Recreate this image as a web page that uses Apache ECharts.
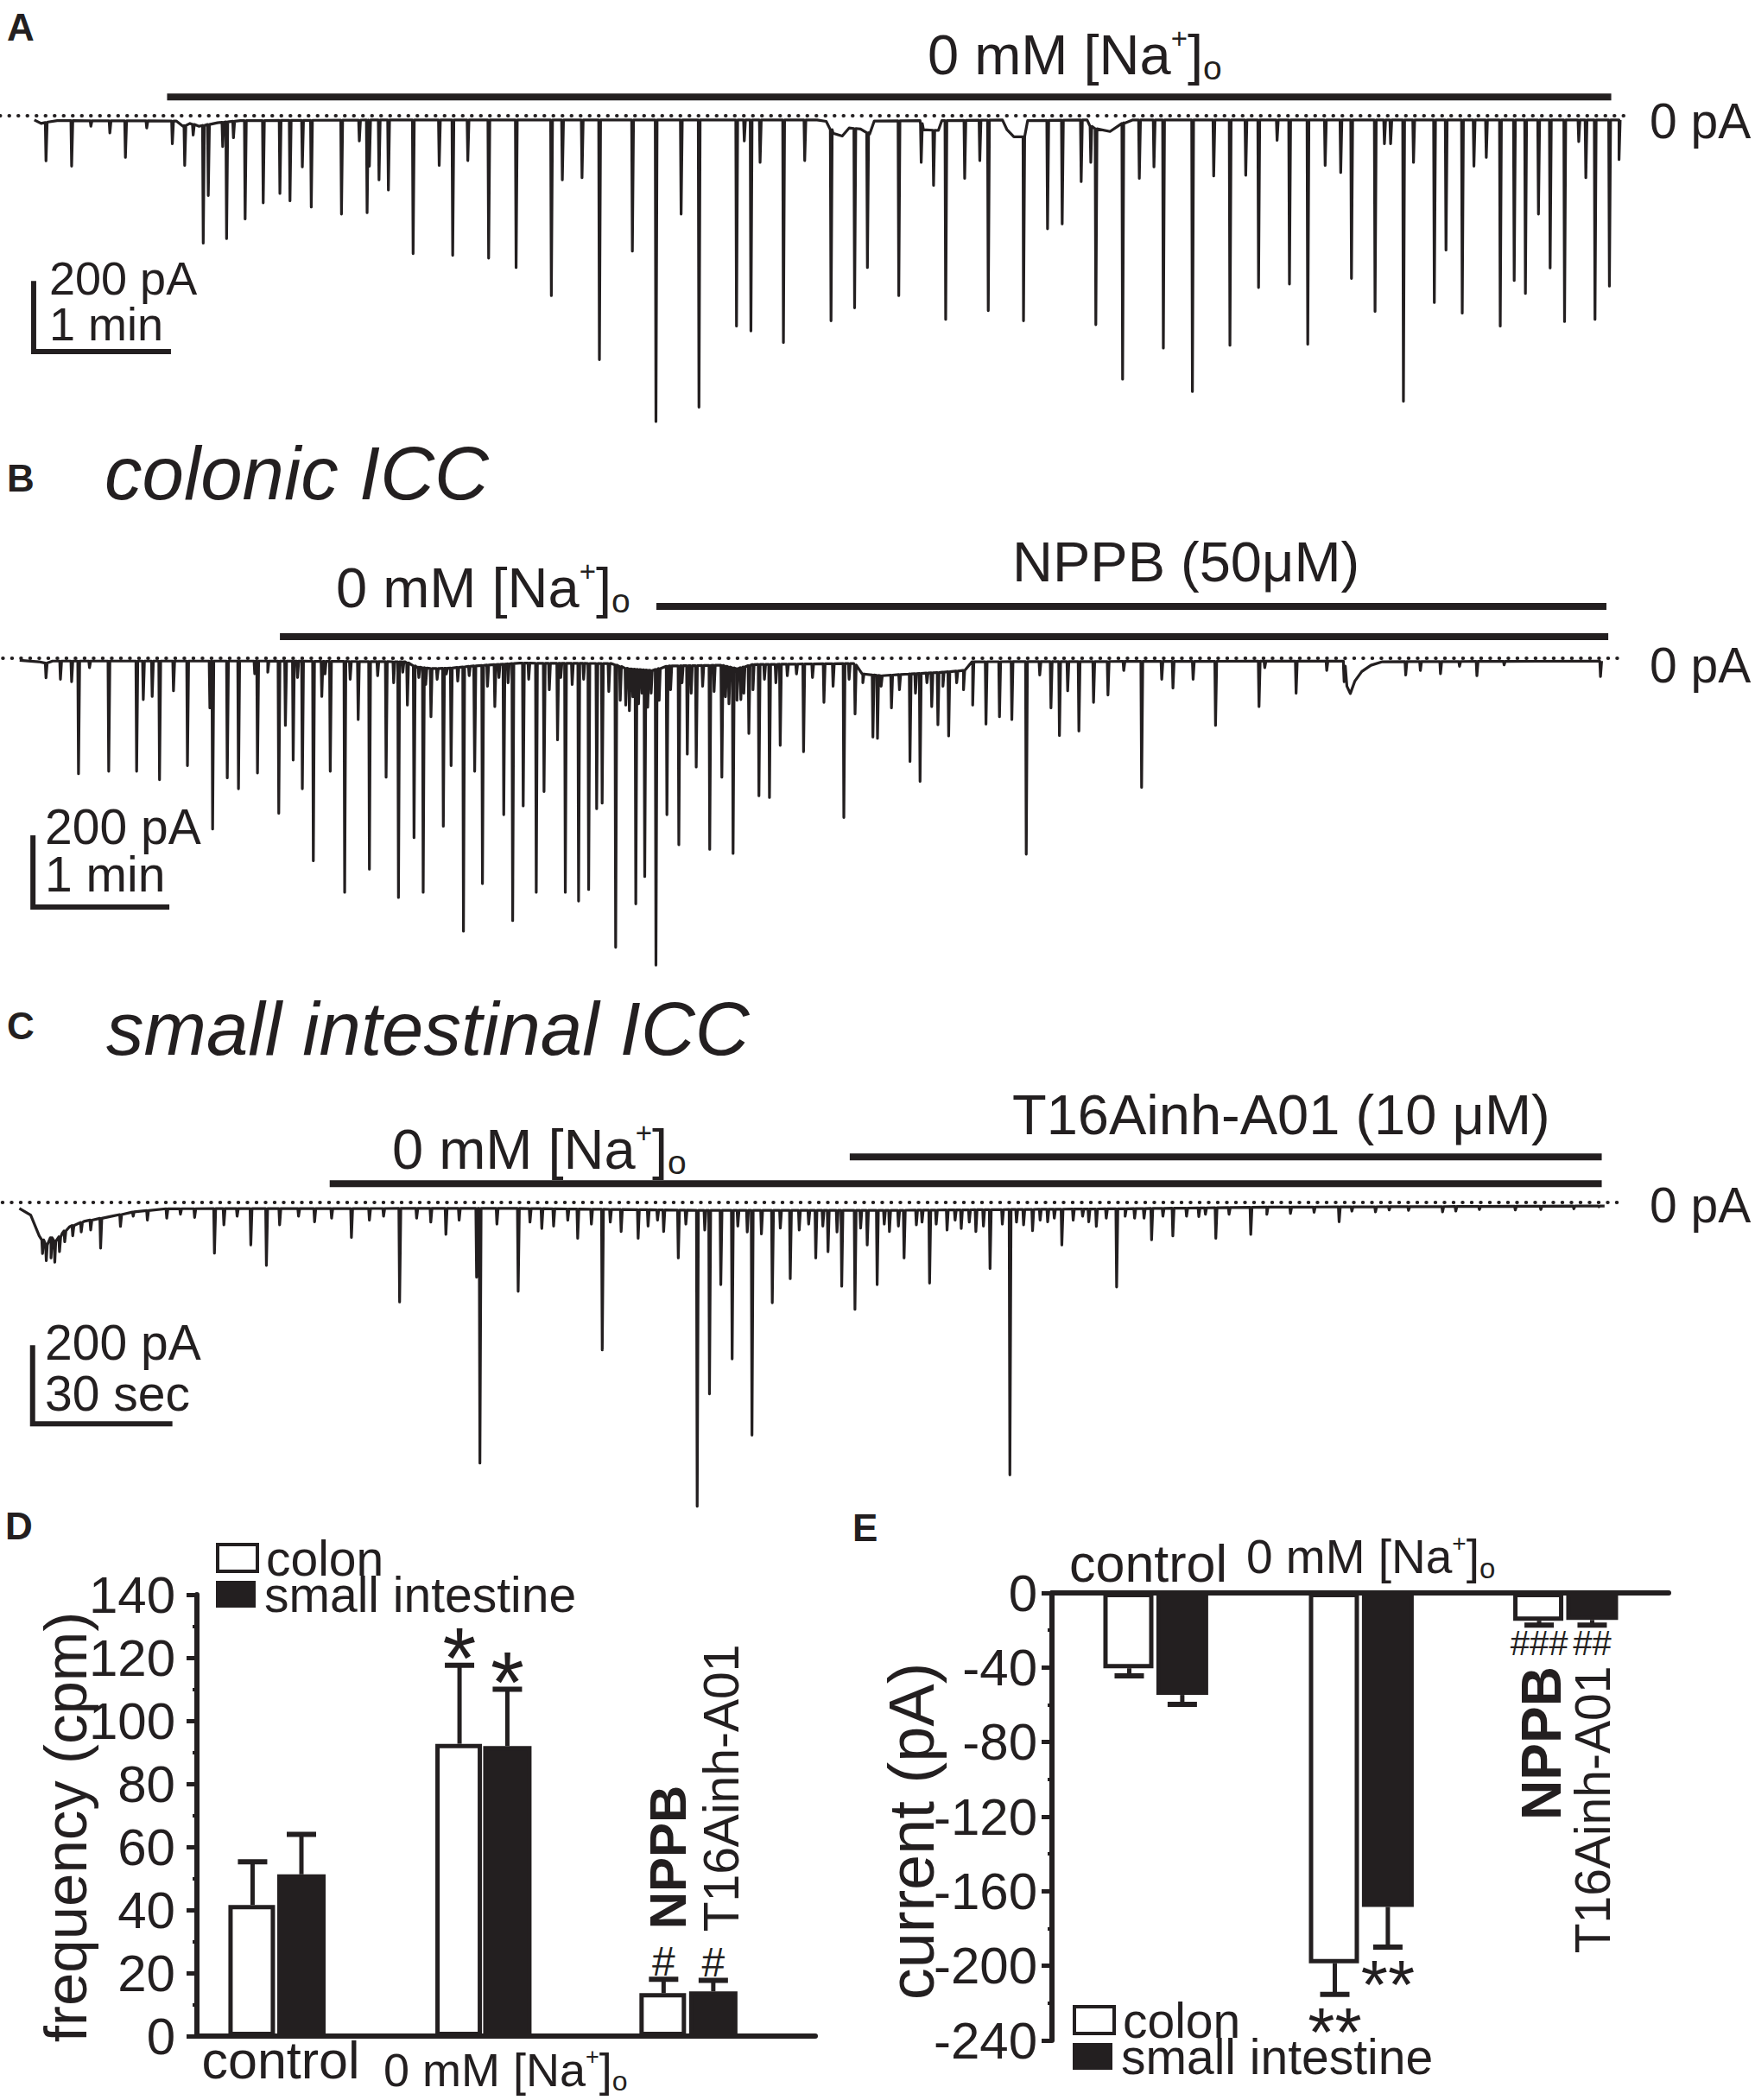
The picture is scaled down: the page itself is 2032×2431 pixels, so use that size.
<!DOCTYPE html>
<html>
<head>
<meta charset="utf-8">
<script src="https://cdn.jsdelivr.net/npm/echarts/dist/echarts.min.js"></script>
<style>
  html, body { margin: 0; background: #fff; }
  #chart { width: 2032px; height: 2431px; }
</style>
</head>
<body>
<div id="chart"></div>
<script>
// ---- data ----
// traces: [time s, peak current pA below 0], baselines: [time s, current pA]
const spikesA = [[3.1,129],[14.3,144],[22.7,30],[31.0,49],[37.8,119],[47.1,35],[58.3,80],[63.7,142],[67.4,55],[71.8,364],[74.0,228],[80.3,88],[82.0,351],[85.0,63],[90.1,295],[98.0,249],[105.3,222],[109.7,243],[115.1,146],[119.0,261],[132.2,281],[140.0,72],[143.4,277],[144.4,144],[148.6,183],[152.7,212],[163.5,394],[174.9,142],[180.8,399],[187.4,128],[196.5,407],[208.5,434],[223.9,514],[228.7,183],[237.3,177],[244.9,697],[259.3,387],[269.6,874],[280.6,281],[288.4,833],[304.8,601],[308.2,72],[311.1,615],[315.1,133],[325.3,648],[334.6,128],[346.1,586],[356.4,549],[362.0,434],[375.7,514],[385.5,133],[390.9,199],[396.2,582],[404.5,179],[411.1,128],[414.8,557],[430.2,586],[440.7,323],[447.1,309],[455.4,188],[459.6,133],[461.8,597],[473.5,753],[480.8,179],[487.2,146],[491.3,664],[504.0,788],[513.3,172],[520.4,656],[527.3,170],[532.9,491],[541.0,70],[546.4,481],[554.4,653],[562.0,142],[568.8,162],[573.5,465],[583.8,559],[587.9,80],[590.6,80],[596.2,816],[600.6,133],[609.7,534],[614.8,384],[621.9,564],[627.0,144],[632.4,119],[638.5,601],[644.6,471],[649.5,508],[655.2,281],[660.3,435],[666.6,588],[672.8,74],[675.9,177],[679.9,582],[686.2,487],[690.4,125]];
const baseA = [[-2,-12],[1,-22],[4,-18],[8,-14],[60,-15],[63,-30],[66,-22],[70,-30],[78,-20],[88,-14],[150,-12],[340,-12],[344,-16],[347,-50],[351,-58],[354,-35],[359,-38],[363,-52],[365,-15],[385,-14],[386.5,-40],[393,-42],[394.5,-14],[421,-12],[423,-40],[426,-60],[430,-65],[432,-14],[458,-12],[460,-35],[468,-45],[474,-20],[478,-12],[690.4,-12]];

const spikesB = [[3.1,56],[9.4,60],[14.3,67],[17.3,330],[22.1,27],[30.5,323],[42.7,323],[45.6,118],[49.5,109],[52.7,347],[58.8,93],[64.9,307],[74.7,142],[75.9,488],[82.3,342],[87.2,373],[94.3,44],[95.5,328],[100,40],[104.8,443],[107.7,192],[111.1,291],[113,55],[115.1,373],[119.9,579],[123.6,109],[125,45],[127.3,323],[133.6,669],[136,60],[139.5,175],[144.4,603],[148,50],[151.7,340],[155,70],[157.1,684],[159,40],[161.0,134],[163.9,513],[166,55],[167.9,669],[169,75],[171.3,167],[174,60],[176.7,480],[178,45],[180.1,307],[183,65],[185.5,780],[188,50],[190.4,323],[193.8,644],[196,80],[199.2,138],[201,55],[203.1,447],[205,70],[207.0,750],[211.6,422],[214,60],[217.3,669],[220.7,381],[223,90],[226.6,233],[228,55],[230.0,669],[233,75],[235.8,694],[238,60],[240.2,661],[243.7,430],[246.1,414],[249,95],[252.0,826],[254,120],[256.4,134],[258,150],[259.5,110],[260.8,702],[262,130],[263.5,100],[264.7,624],[266,140],[267.5,100],[269.6,877],[271,120],[274.4,447],[276,90],[279.6,533],[281,70],[283.3,274],[285,100],[287.2,311],[290,80],[293.1,546],[295,95],[298.4,340],[300,110],[301.5,130],[303.3,558],[305,120],[306.7,118],[308,100],[310.2,215],[312,90],[314.6,393],[317,60],[319.2,398],[322,70],[323.9,249],[327,50],[331,45],[334.1,267],[338,55],[343.0,126],[347,80],[351.7,455],[354,60],[356.6,159],[360,70],[364.4,225],[366.4,229],[368,80],[372.5,142],[376,90],[380.6,295],[383,100],[385.0,352],[388,70],[390.1,138],[392.8,190],[395,80],[397.5,222],[401,70],[404,90],[408.0,134],[413.8,188],[419.7,167],[425.1,175],[431.4,560],[437.3,48],[442.2,142],[445.9,221],[449.5,93],[454.4,208],[460.8,126],[467.1,105],[474.0,35],[481.8,369],[490.6,60],[495.5,85],[504.3,60],[514.1,192],[533.1,138],[535.6,27],[549.3,100],[562.7,35],[570.3,67],[597.2,48],[603.6,35],[612.4,44],[620.7,23],[628.3,50],[640.2,19],[682.3,52]];
const baseB = [[-8.4,-6],[0,-10],[3,-14],[6,-8],[100,-8],[160,-10],[165,-25],[172,-30],[180,-28],[190,-22],[200,-18],[210,-14],[250,-15],[257,-30],[268,-35],[275,-22],[298,-20],[305,-30],[312,-18],[356,-15],[360,-45],[368,-50],[380,-45],[395,-40],[404,-35],[408,-10],[570,-8],[571.5,-80],[573,-101],[575,-65],[578,-38],[582,-20],[587,-10],[683,-8]];

const spikesC = [[0.8,130],[1.6,148],[2.6,141],[3.4,152],[4.4,125],[5.5,100],[7.2,85],[9,75],[11,70],[13.1,116],[17.3,61],[20,35],[23,45],[27.1,40],[30,30],[33,38],[37.2,129],[39.2,57],[42,35],[44.9,108],[48.2,160],[51.0,57],[55,35],[58.4,49],[62,40],[66.2,89],[70,45],[73,35],[76.4,253],[80,40],[83,50],[86.2,81],[89,45],[92.7,190],[93.4,663],[97,55],[101.5,226],[104,50],[106.5,66],[109,60],[112,45],[114.1,91],[117,55],[119.3,375],[121,50],[123.3,74],[126.9,91],[129,60],[131,45],[132.3,74],[135.4,141],[137,55],[139.4,773],[141,70],[142.0,487],[144.4,209],[146.8,398],[148,60],[150,75],[151.0,592],[153,80],[155.3,255],[157,65],[159.1,194],[161,70],[163,55],[164.5,141],[166,60],[167.1,125],[169,75],[170.0,213],[172.8,272],[174,65],[175.4,108],[177.5,209],[179,55],[180.1,74],[182,60],[183.2,141],[185.8,57],[187,50],[188.6,205],[190,55],[192.3,70],[194,45],[195.3,66],[197,50],[198.4,74],[200,60],[201.4,168],[204,55],[205.6,693],[207,50],[208.5,57],[210.4,72],[212,45],[213.6,49],[215,40],[216.6,108],[219,45],[221,35],[222.3,49],[223.9,61],[226,40],[228.2,215],[230,35],[232.0,40],[234,40],[235.6,95],[238,35],[240.1,85],[243,35],[245.6,36],[247,30],[249.2,91],[252,30],[256.6,81],[260,30],[265,28],[270,25],[275.3,49],[278,22],[283.0,24],[285.9,19],[290,20],[297.2,24],[300,22],[305,18],[312.6,19],[318,18],[325,16],[330.3,11]];
const baseC = [[-4.1,-15],[-1.7,-32],[0.1,-85],[1.8,-110],[2.6,-90],[3.6,-100],[5,-78],[6.5,-62],[9.6,-48],[15.5,-35],[20.2,-24],[27,-16],[100,-15],[140,-20],[180,-20],[230,-16],[260,-12],[331.5,-9]];

// drug application bars [start s, end s, level pA]
const drugA = [[56, 687, 54]];
const drugB = [[105.3, 685.7, 62], [269.8, 684.9, 148]];
const drugC = [[61.6, 330.9, 48], [171.7, 330.9, 116]];

// panel D: frequency (cpm)
const groupsD = ['control', '0 mM [Na+]o', 'NPPB / T16Ainh-A01'];
const posColonD = [0.270, 1.274, 2.264];
const posSiD = [0.507, 1.506, 2.505];
const colonD = [41.6, 92.7, 13.6];
const colonErrD = [55.3, 117.6, 18.0];
const siD = [51.3, 92.0, 14.2];
const siErrD = [64.0, 110.0, 17.7];
const colonMarkD = ['', '*', '#'];
const siMarkD = ['', '*', '#'];

// panel E: current (pA)
const posColonE = [0.376, 1.376, 2.370];
const posSiE = [0.634, 1.634, 2.628];
const colonE = [-40.4, -198.6, -14.9];
const colonErrE = [-44.5, -215.3, -17.3];
const siE = [-54.7, -168.4, -14.5];
const siErrE = [-59.8, -190.0, -17.3];
const colonMarkE = ['', '**', '###'];
const siMarkE = ['', '**', '##'];

const ticksD = [0, 20, 40, 60, 80, 100, 120, 140];
const ticksE = [-240, -200, -160, -120, -80, -40, 0];

// ---- helpers ----
const INK = '#231f20';
const FONT = '"Liberation Sans", Arial, sans-serif';

function baseAt(base, t) {
  if (t <= base[0][0]) return base[0][1];
  for (let i = 1; i < base.length; i++) {
    if (t <= base[i][0]) {
      const a = base[i - 1], b = base[i];
      return a[1] + (b[1] - a[1]) * (t - a[0]) / (b[0] - a[0]);
    }
  }
  return base[base.length - 1][1];
}

// baseline points plus one down/up stroke per event
function buildTrace(base, spikes, w1, w2) {
  const pts = base.map(p => [p[0], p[1]]);
  spikes.forEach(s => {
    const b = baseAt(base, s[0]);
    pts.push([s[0] - w1, b], [s[0], -s[1]], [s[0] + w2, b]);
  });
  pts.sort((p, q) => p[0] - q[0]);
  return pts;
}

function traceSeries(idx, base, spikes, w1, w2) {
  return {
    type: 'line', xAxisIndex: idx, yAxisIndex: idx, data: buildTrace(base, spikes, w1, w2),
    symbol: 'none', silent: true, lineStyle: { color: INK, width: 3.2, join: 'round' }, z: 3
  };
}

function zeroLine(idx, t0, t1) {
  return {
    type: 'line', xAxisIndex: idx, yAxisIndex: idx, data: [[t0, 0], [t1, 0]],
    symbol: 'none', silent: true, z: 2,
    lineStyle: { color: INK, width: 4, type: [0.5, 10], cap: 'round' }
  };
}

function drugSeries(idx, bars) {
  return bars.map(b => ({
    type: 'line', xAxisIndex: idx, yAxisIndex: idx, data: [[b[0], b[2]], [b[1], b[2]]],
    symbol: 'none', silent: true, lineStyle: { color: INK, width: 8, cap: 'butt' }
  }));
}

function scaleBar(idx, pts) {
  return {
    type: 'line', xAxisIndex: idx, yAxisIndex: idx, data: pts,
    symbol: 'none', silent: true, lineStyle: { color: INK, width: 6, join: 'miter', cap: 'butt' }
  };
}

function barSeries(idx, name, pos, vals, width, fill) {
  return {
    type: 'bar', name: name, xAxisIndex: idx, yAxisIndex: idx,
    data: pos.map((p, i) => [p, vals[i]]),
    barWidth: width, barGap: '-100%', silent: true, z: 2,
    itemStyle: { color: fill, borderColor: INK, borderWidth: 5 }
  };
}

function errSeries(idx, pos, vals, errs, marks, starSize, hashSize) {
  return {
    type: 'custom', xAxisIndex: idx, yAxisIndex: idx, silent: true, z: 5,
    data: pos.map((p, i) => [p, errs[i]]),
    renderItem: (params, api) => {
      const i = params.dataIndex;
      const a = api.coord([pos[i], vals[i]]);
      const e = api.coord([pos[i], errs[i]]);
      const dir = e[1] < a[1] ? -1 : 1;
      const kids = [
        { type: 'line', shape: { x1: a[0], y1: a[1], x2: e[0], y2: e[1] }, style: { stroke: INK, lineWidth: 5 } },
        { type: 'line', shape: { x1: e[0] - 17, y1: e[1], x2: e[0] + 17, y2: e[1] }, style: { stroke: INK, lineWidth: 6 } }
      ];
      const m = marks[i];
      if (m) {
        const star = m.indexOf('*') >= 0;
        const size = star ? starSize : hashSize;
        const off = star ? (dir < 0 ? 31 : 26) : 21;
        const cy = e[1] + dir * off + (star ? size * 0.22 : 0);
        kids.push({ type: 'text', x: e[0], y: cy, style: {
          text: m, fontSize: size, fontFamily: FONT, fill: INK, align: 'center', verticalAlign: 'middle' } });
      }
      return { type: 'group', children: kids };
    }
  };
}

function txt(x, y, text, size, extra) {
  return { type: 'text', x: x, y: y, silent: true, style: Object.assign({
    text: text, fontSize: size, fontFamily: FONT, fill: INK, align: 'left', verticalAlign: 'middle'
  }, extra || {}) };
}

function naLabel(x, y, size) {
  return txt(x, y, '0 mM [Na{s|+}]{o|o}', size, {
    lineHeight: Math.round(size * 1.08),
    rich: {
      s: { fontSize: Math.round(size * 0.5), lineHeight: Math.round(size * 0.5), verticalAlign: 'top', fill: INK, fontFamily: FONT },
      o: { fontSize: Math.round(size * 0.6), lineHeight: Math.round(size * 0.82), verticalAlign: 'bottom', fill: INK, fontFamily: FONT }
    }
  });
}

function vtxt(x, y, text, size, bold) {
  const t = txt(x, y, text, size, { align: 'center', fontWeight: bold ? 'bold' : 'normal' });
  t.rotation = Math.PI / 2;
  return t;
}

const hidden = { show: false };
function plainAxis(min, max) {
  return { type: 'value', min: min, max: max, show: false, splitLine: hidden };
}

const legendStyle = {
  colon: { color: '#fff', borderColor: INK, borderWidth: 4 },
  'small intestine': { color: INK, borderColor: INK, borderWidth: 0 }
};
// one legend per entry so each row sits where the figure has it (text centre y)
function legendItem(left, cy, name) {
  return {
    left: left, top: cy - 29, orient: 'vertical', itemWidth: 46, itemHeight: 31,
    padding: 0, selectedMode: false, icon: 'rect',
    textStyle: { fontSize: 57, fontFamily: FONT, color: INK, padding: [0, 0, 0, 5] },
    data: [{ name: name, itemStyle: legendStyle[name] }]
  };
}

// ---- chart ----
const chart = echarts.init(document.getElementById('chart'), null, { renderer: 'svg' });

const yAxisBase = (idx, min, max, interval, margin) => ({
  type: 'value', gridIndex: idx, min: min, max: max, interval: interval,
  axisLine: { show: true, onZero: false, lineStyle: { color: INK, width: 6 } },
  axisTick: { show: true, length: 12, lineStyle: { color: INK, width: 5 } },
  minorTick: { show: true, splitNumber: 2, length: 5, lineStyle: { color: INK, width: 4 } },
  splitLine: hidden, minorSplitLine: hidden,
  axisLabel: { fontSize: 60, fontFamily: FONT, color: INK, margin: margin }
});

const option = {
  animation: false,
  backgroundColor: '#fff',
  grid: [
    { left: 0, top: 53, width: 1900, height: 445.5 },
    { left: 0, top: 681, width: 1900, height: 445.5 },
    { left: 0, top: 1301, width: 1959, height: 500.5 },
    { left: 228, top: 1846, width: 716, height: 511 },
    { left: 1218, top: 1844, width: 714, height: 518 }
  ],
  xAxis: [
    Object.assign(plainAxis(-17, 700), { gridIndex: 0 }),
    Object.assign(plainAxis(-17, 700), { gridIndex: 1 }),
    Object.assign(plainAxis(-8.2, 350), { gridIndex: 2 }),
    { type: 'value', gridIndex: 3, min: 0, max: 3, splitLine: hidden,
      axisLine: { show: true, onZero: false, lineStyle: { color: INK, width: 6 } },
      axisTick: hidden, axisLabel: hidden },
    { type: 'value', gridIndex: 4, min: 0, max: 3, position: 'top', splitLine: hidden,
      axisLine: { show: true, onZero: false, lineStyle: { color: INK, width: 6 } },
      axisTick: hidden, axisLabel: hidden }
  ],
  yAxis: [
    Object.assign(plainAxis(-900, 200), { gridIndex: 0 }),
    Object.assign(plainAxis(-900, 200), { gridIndex: 1 }),
    Object.assign(plainAxis(-900, 200), { gridIndex: 2 }),
    yAxisBase(3, ticksD[0], ticksD[ticksD.length - 1], ticksD[1] - ticksD[0], 25),
    yAxisBase(4, ticksE[0], ticksE[ticksE.length - 1], ticksE[1] - ticksE[0], 17)
  ],
  legend: [
    legendItem(250, 1804, 'colon'),
    legendItem(250, 1846, 'small intestine'),
    legendItem(1242, 2339, 'colon'),
    legendItem(1242, 2381, 'small intestine')
  ],
  series: [
    // A
    zeroLine(0, -17, 696),
    traceSeries(0, baseA, spikesA, 0.3, 0.5),
    ...drugSeries(0, drugA),
    scaleBar(0, [[-2.3, -472], [-2.3, -674], [57.7, -674]]),
    // B
    zeroLine(1, -15.8, 690.6),
    traceSeries(1, baseB, spikesB, 0.3, 0.5),
    ...drugSeries(1, drugB),
    scaleBar(1, [[-2.6, -506], [-2.6, -711], [57, -711]]),
    // C
    zeroLine(2, -7.7, 335),
    traceSeries(2, baseC, spikesC, 0.15, 0.25),
    ...drugSeries(2, drugC),
    scaleBar(2, [[-1.3, -363], [-1.3, -563], [28.3, -563]]),
    // D
    barSeries(3, 'colon', posColonD, colonD, 54, '#fff'),
    barSeries(3, 'small intestine', posSiD, siD, 56, INK),
    errSeries(3, posColonD, colonD, colonErrD, colonMarkD, 100, 48),
    errSeries(3, posSiD, siD, siErrD, siMarkD, 100, 48),
    // E
    barSeries(4, 'colon', posColonE, colonE, 58, '#fff'),
    barSeries(4, 'small intestine', posSiE, siE, 60, INK),
    errSeries(4, posColonE, colonE, colonErrE, colonMarkE, 80, 40),
    errSeries(4, posSiE, siE, siErrE, siMarkE, 80, 40)
  ],
  graphic: [
    // panel letters
    txt(8, 31, 'A', 44, { fontWeight: 'bold' }),
    txt(8, 553, 'B', 44, { fontWeight: 'bold' }),
    txt(8, 1187, 'C', 44, { fontWeight: 'bold' }),
    txt(6, 1766, 'D', 44, { fontWeight: 'bold' }),
    txt(987, 1768, 'E', 44, { fontWeight: 'bold' }),
    // A
    naLabel(1074, 63, 65),
    txt(1910, 140, '0 pA', 57),
    txt(57, 322, '200 pA', 54),
    txt(57, 375, '1 min', 54),
    // B
    txt(121, 547, 'colonic ICC', 87, { fontStyle: 'italic' }),
    naLabel(389, 680, 65),
    txt(1172, 650, 'NPPB (50μM)', 65),
    txt(1910, 770, '0 pA', 57),
    txt(52, 957, '200 pA', 57),
    txt(52, 1012, '1 min', 57),
    // C
    txt(123, 1190, 'small intestinal ICC', 87, { fontStyle: 'italic' }),
    naLabel(454, 1330, 65),
    txt(1172, 1290, 'T16Ainh-A01 (10 μM)', 65),
    txt(1910, 1395, '0 pA', 57),
    txt(52, 1554, '200 pA', 57),
    txt(52, 1613, '30 sec', 57),
    // D
    vtxt(76, 2115, 'frequency (cpm)', 69, false),
    txt(325, 2385, groupsD[0], 61, { align: 'center' }),
    naLabel(444, 2396, 54),
    vtxt(773, 2150, 'NPPB', 60, true),
    vtxt(835, 2070, 'T16Ainh-A01', 57, false),
    // E
    vtxt(1055, 2120, 'current (pA)', 74, false),
    txt(1238, 1810, 'control', 61),
    naLabel(1443, 1802, 55),
    vtxt(1785, 2018, 'NPPB', 64, true),
    vtxt(1844, 2095, 'T16Ainh-A01', 57, false)
  ]
};

chart.setOption(option);
</script>
</body>
</html>
